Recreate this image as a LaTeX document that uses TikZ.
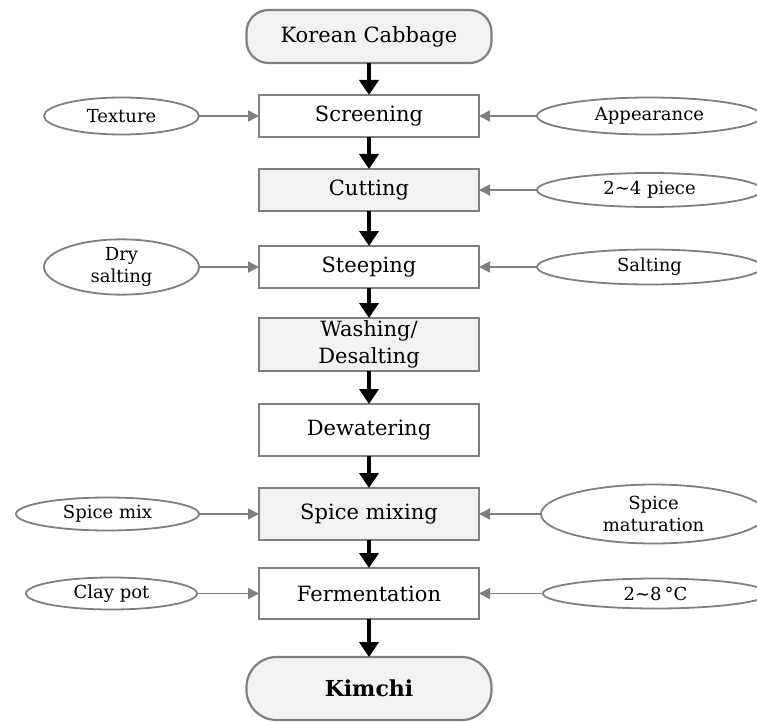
\documentclass[tikz,border=0pt]{standalone}
\usepackage{fontspec}
\setmainfont{DejaVu Serif}
\usetikzlibrary{shapes.geometric, arrows.meta, positioning}
\usepackage{xcolor}
\definecolor{boxline}{HTML}{7F7F7F}
\definecolor{boxfill}{HTML}{F2F2F2}

\begin{document}
\begin{tikzpicture}[
    every node/.style={font=\fontsize{21}{27}\selectfont, outer sep=0pt},
    stepbox/.style={rectangle, draw=boxline, line width=2pt, fill=white,
                minimum width=220pt, minimum height=42pt, align=center, inner sep=0pt},
    shaded/.style={fill=boxfill},
    terminal/.style={rectangle, draw=boxline, line width=2.2pt, fill=boxfill,
                rounded corners=22pt, minimum width=245pt, minimum height=53pt},
    factor/.style={ellipse, draw=boxline, line width=1.8pt, fill=white,
                minimum width=155pt, minimum height=37pt, inner sep=0pt, align=center,
                font=\fontsize{18}{22}\selectfont},
    arr/.style={-{Triangle[length=15pt,width=19pt]}, line width=4pt},
    side/.style={-{Triangle[length=11pt,width=11pt]}, line width=1.8pt, boxline}
]
    \useasboundingbox (0,0) rectangle (757pt,-722pt);

    % main line
    \node[terminal] (cabbage) at (369pt,-36.5pt) {Korean Cabbage};
    \node[stepbox, below=32pt of cabbage] (screen) {Screening};
    \node[stepbox, shaded, below=32pt of screen] (cut) {Cutting};
    \node[stepbox, below=35pt of cut] (steep) {Steeping};
    \node[stepbox, shaded, below=30pt of steep, minimum height=53pt] (wash) {Washing/\\Desalting};
    \node[stepbox, below=33pt of wash, minimum height=52pt] (dewater) {Dewatering};
    \node[stepbox, shaded, below=32pt of dewater, minimum height=52pt] (spice) {Spice mixing};
    \node[stepbox, below=28pt of spice, minimum height=51pt] (ferment) {Fermentation};
    \node[terminal, below=38pt of ferment, rounded corners=30pt, minimum height=63pt,
          font=\fontsize{22}{26}\selectfont\bfseries] (kimchi) {Kimchi};

    % factors, left
    \node[factor, left=60pt of screen] (texture) {Texture};
    \node[factor, left=60pt of steep, minimum height=52pt] (dry) {Dry\\salting};
    \node[factor, left=60pt of spice, minimum width=183pt, minimum height=33pt] (mix) {Spice mix};
    \node[factor, left=62pt of ferment, minimum width=171pt, minimum height=32pt] (pot) {Clay pot};

    % factors, right
    \node[factor, right=58pt of screen, minimum width=225pt] (look) {Appearance};
    \node[factor, right=58pt of cut, minimum width=225pt, minimum height=34pt] (piece) {2∼4 piece};
    \node[factor, right=58pt of steep, minimum width=225pt, minimum height=35pt] (salt) {Salting};
    \node[factor, right=62pt of spice, minimum width=225pt, minimum height=59pt] (mature) {Spice\\maturation};
    \node[factor, right=64pt of ferment, minimum width=225pt, minimum height=30pt] (temp) {2∼8\,°C};

    \draw[arr] (cabbage) -- (screen);
    \draw[arr] (screen) -- (cut);
    \draw[arr] (cut) -- (steep);
    \draw[arr] (steep) -- (wash);
    \draw[arr] (wash) -- (dewater);
    \draw[arr] (dewater) -- (spice);
    \draw[arr] (spice) -- (ferment);
    \draw[arr] (ferment) -- (kimchi);

    \draw[side] (texture) -- (screen);
    \draw[side] (dry) -- (steep);
    \draw[side] (mix) -- (spice);
    \draw[side] (pot) -- (ferment);
    \draw[side] (look) -- (screen);
    \draw[side] (piece) -- (cut);
    \draw[side] (salt) -- (steep);
    \draw[side] (mature) -- (spice);
    \draw[side] (temp) -- (ferment);
\end{tikzpicture}
\end{document}
